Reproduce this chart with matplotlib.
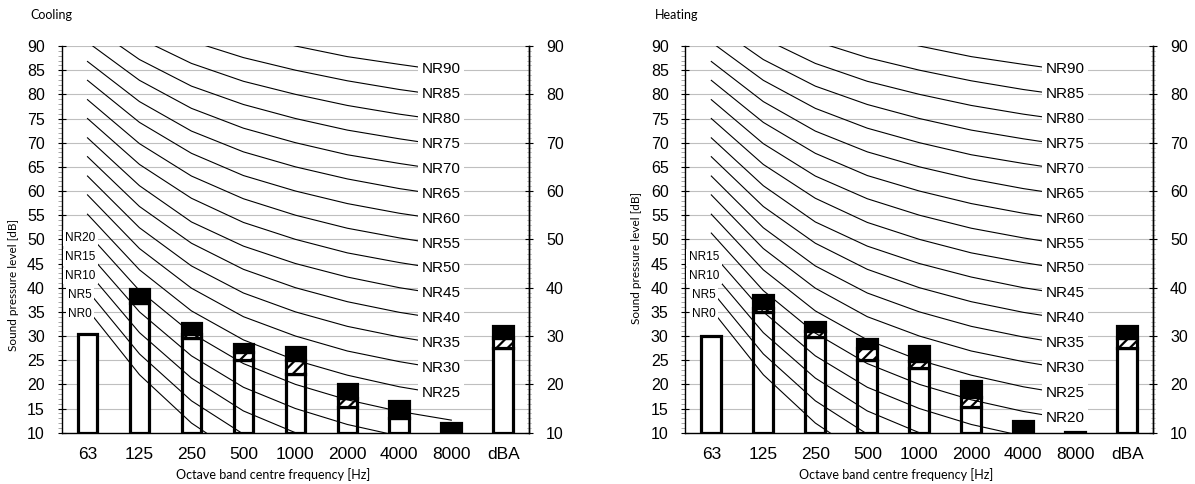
import numpy as np
import matplotlib
matplotlib.use('Agg')
import matplotlib.pyplot as plt
from matplotlib.ticker import MultipleLocator

plt.rcParams['hatch.linewidth'] = 1.6

# Octave band categories
bands = ['63', '125', '250', '500', '1000', '2000', '4000', '8000', 'dBA']

# Cooling: top of white part, top of hatched part, total level (dB)
cool_white = [30.5, 36.8, 29.5, 25.0, 22.2, 15.4, 13.1, 10.0, 27.5]
cool_hatch = [30.5, 36.8, 30.4, 26.6, 25.0, 17.1, 13.1, 10.0, 29.6]
cool_total = [30.5, 39.7, 32.6, 28.3, 27.8, 20.0, 16.6, 12.1, 32.0]

# Heating
heat_white = [30.0, 35.0, 29.9, 25.1, 23.4, 15.3, 10.0, 10.0, 27.5]
heat_hatch = [30.0, 35.8, 31.1, 27.6, 24.9, 17.4, 10.0, 10.0, 29.6]
heat_total = [30.0, 38.5, 32.8, 29.3, 27.9, 20.7, 12.4, 10.2, 32.0]

# NR curves, 63 Hz .. 8000 Hz
nr_levels = [0, 5, 10, 15, 20, 25, 30, 35, 40, 45, 50, 55, 60, 65, 70, 75, 80, 85, 90]
nr_table = [
    [35.5, 22.0, 12.0, 4.8, 0.0, -3.5, -6.1, -8.0],
    [39.4, 26.3, 16.6, 9.7, 5.0, 1.6, -1.0, -2.8],
    [43.4, 30.7, 21.3, 14.5, 10.0, 6.6, 4.2, 2.3],
    [47.3, 35.0, 25.9, 19.4, 15.0, 11.7, 9.3, 7.4],
    [51.3, 39.4, 30.6, 24.3, 20.0, 16.8, 14.4, 12.6],
    [55.2, 43.7, 35.2, 29.2, 25.0, 21.9, 19.5, 17.7],
    [59.2, 48.1, 39.9, 34.0, 30.0, 26.9, 24.7, 22.9],
    [63.1, 52.4, 44.5, 38.9, 35.0, 32.0, 29.8, 28.0],
    [67.1, 56.8, 49.2, 43.8, 40.0, 37.1, 34.9, 33.2],
    [71.0, 61.1, 53.6, 48.6, 45.0, 42.2, 40.0, 38.3],
    [75.0, 65.5, 58.5, 53.5, 50.0, 47.2, 45.2, 43.5],
    [78.9, 69.8, 63.1, 58.4, 55.0, 52.3, 50.3, 48.6],
    [82.9, 74.2, 67.8, 63.2, 60.0, 57.4, 55.4, 53.8],
    [86.8, 78.5, 72.4, 68.1, 65.0, 62.5, 60.5, 58.9],
    [90.8, 82.9, 77.1, 73.0, 70.0, 67.5, 65.7, 64.1],
    [94.7, 87.2, 81.7, 77.9, 75.0, 72.6, 70.8, 69.2],
    [98.7, 91.6, 86.4, 82.7, 80.0, 77.7, 75.9, 74.4],
    [102.6, 95.9, 91.0, 87.6, 85.0, 82.8, 81.0, 79.5],
    [106.6, 100.3, 95.7, 92.5, 90.0, 87.8, 86.2, 84.7],
]

TXT_FONT = 'Lato'
NUM_FONT = 'Liberation Sans'
W, H = 1195, 484


def draw_panel(ax, white, hatch, total, right_start):
    x = np.arange(len(bands))
    base = 10
    bw = 0.38
    lw = 2.3
    w = np.array(white)
    h = np.array(hatch)
    t = np.array(total)
    ax.bar(x, w - base, bottom=base, width=bw, color='white', edgecolor='black', linewidth=lw, zorder=2)
    m = h > w
    ax.bar(x[m], (h - w)[m], bottom=w[m], width=bw, color='white', edgecolor='black',
           hatch='///', linewidth=lw, zorder=2)
    m = t > h
    ax.bar(x[m], (t - h)[m], bottom=h[m], width=bw, color='black', edgecolor='black', linewidth=lw, zorder=2)

    xc = np.arange(8)
    for nr, vals in zip(nr_levels, nr_table):
        ax.plot(xc, vals, color='black', lw=0.8, zorder=3)
        if nr >= right_start:
            ax.text(6.8, vals[-1] + 0.5, f'NR{nr}', ha='center', va='center', fontsize=11,
                    family=NUM_FONT, zorder=4,
                    bbox=dict(boxstyle='square,pad=0.25', fc='white', ec='none'))
        else:
            ax.text(-0.14, vals[0] - 1.0, f'NR{nr}', ha='center', va='center', fontsize=8.5,
                    family=NUM_FONT, zorder=4,
                    bbox=dict(boxstyle='square,pad=0.2', fc='white', ec='none'))

    ax.set_xlim(-0.5, 8.5)
    ax.set_ylim(10, 90)
    ax.set_xticks(x)
    ax.set_xticklabels(bands, family=NUM_FONT, fontsize=12.5)
    ax.tick_params(axis='x', length=0, pad=10)
    ax.yaxis.set_major_locator(MultipleLocator(5))
    ax.yaxis.set_minor_locator(MultipleLocator(1))
    ax.tick_params(axis='y', which='major', direction='inout', length=6, width=0.8,
                   labelsize=11.5, pad=9)
    ax.tick_params(axis='y', which='minor', direction='out', length=3, width=0.6, color='#999999')
    for lab in ax.get_yticklabels():
        lab.set_family(NUM_FONT)
    ax.grid(axis='y', color='#bfbfbf', lw=0.8, zorder=0)
    ax.set_axisbelow(True)
    ax.spines['top'].set_visible(False)
    for s in ['left', 'right', 'bottom']:
        ax.spines[s].set_linewidth(1.0)

    ax2 = ax.twinx()
    ax2.set_ylim(10, 90)
    ax2.yaxis.set_major_locator(MultipleLocator(10))
    ax2.yaxis.set_minor_locator(MultipleLocator(1))
    ax2.tick_params(axis='y', which='major', direction='inout', length=6, width=0.8,
                    labelsize=11.5, pad=9)
    ax2.tick_params(axis='y', which='minor', direction='inout', length=3, width=0.6, color='#999999')
    for lab in ax2.get_yticklabels():
        lab.set_family(NUM_FONT)
    for s in ['top', 'left', 'bottom']:
        ax2.spines[s].set_visible(False)
    ax2.spines['right'].set_linewidth(1.0)


fig = plt.figure(figsize=(W / 100, H / 100), dpi=100)
bottom = (H - 432.7) / H
height = 386.7 / H
ax_c = fig.add_axes([61.5 / W, bottom, 467.8 / W, height])
ax_h = fig.add_axes([685.3 / W, bottom, 468.0 / W, height])

draw_panel(ax_c, cool_white, cool_hatch, cool_total, right_start=25)
draw_panel(ax_h, heat_white, heat_hatch, heat_total, right_start=20)

fig.text(30 / W, 1 - 15 / H, 'Cooling', family=TXT_FONT, fontsize=9, ha='left', va='center')
fig.text(655 / W, 1 - 15 / H, 'Heating', family=TXT_FONT, fontsize=9, ha='left', va='center')
fig.text(273 / W, 1 - 475 / H, 'Octave band centre frequency [Hz]', family=TXT_FONT, fontsize=9,
         ha='center', va='center')
fig.text(896 / W, 1 - 475 / H, 'Octave band centre frequency [Hz]', family=TXT_FONT, fontsize=9,
         ha='center', va='center')
fig.text(14 / W, 1 - 285 / H, 'Sound pressure level [dB]', family=TXT_FONT, fontsize=8.5,
         ha='center', va='center', rotation=90)
fig.text(637 / W, 1 - 258 / H, 'Sound pressure level [dB]', family=TXT_FONT, fontsize=8.5,
         ha='center', va='center', rotation=90)

fig.savefig('out.png', dpi=100)
